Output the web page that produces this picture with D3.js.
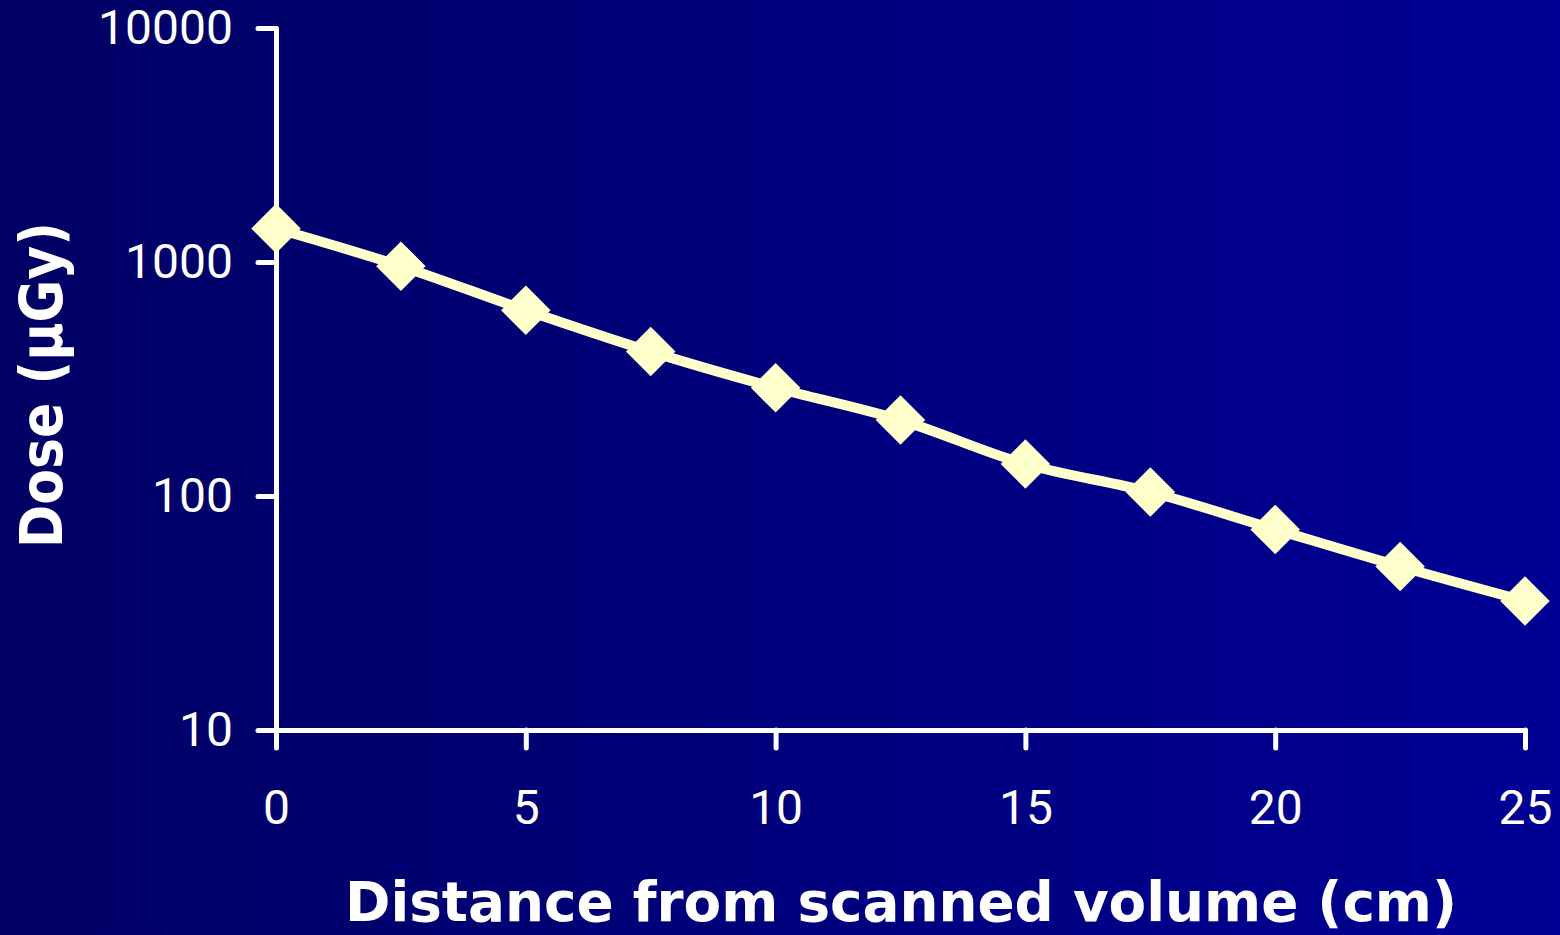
<!DOCTYPE html>
<html>
<head>
<meta charset="utf-8">
<script src="https://cdn.jsdelivr.net/npm/d3@7"></script>
<style>
  html, body { margin: 0; padding: 0; background: #000070; }
  svg { display: block; }
</style>
</head>
<body>
<div id="viz"></div>
<script>
// chart size
const width = 1560;
const height = 935;

// data
const distances = [0, 2.5, 5, 7.5, 10, 12.5, 15, 17.5, 20, 22.5, 25];
const doses = [1390, 960, 622, 414, 290, 211, 137, 104, 72, 50, 35.6];
const yTicks = [10, 100, 1000, 10000];
const xTicks = [0, 5, 10, 15, 20, 25];
const xTitle = "Distance from scanned volume (cm)";
const yTitle = "Dose (µGy)";

const svg = d3.select("#viz").append("svg")
    .attr("width", width)
    .attr("height", height);

// background gradient, dark navy to brighter blue
const grad = svg.append("defs").append("linearGradient")
    .attr("id", "bg")
    .attr("x1", "0%").attr("x2", "100%")
    .attr("y1", "0%").attr("y2", "0%");
grad.append("stop").attr("offset", "0%").attr("stop-color", "#000064");
grad.append("stop").attr("offset", "100%").attr("stop-color", "#000094");

svg.append("rect")
    .attr("width", width)
    .attr("height", height)
    .attr("fill", "url(#bg)");

const x = d3.scaleLinear().domain([0, 25]).range([276, 1525]);
const y = d3.scaleLog().domain([10, 10000]).range([730, 28]);

const tickFont = "Roboto, 'Open Sans', sans-serif";

// y axis
const yAxis = svg.append("g")
    .attr("transform", "translate(" + x(0) + ",0)")
    .call(d3.axisLeft(y)
        .tickValues(yTicks)
        .tickFormat(d3.format("d"))
        .tickSize(18)
        .tickSizeOuter(0)
        .tickPadding(25));

// x axis
const xAxis = svg.append("g")
    .attr("transform", "translate(0," + y(10) + ")")
    .call(d3.axisBottom(x)
        .tickValues(xTicks)
        .tickFormat(d3.format("d"))
        .tickSize(18)
        .tickSizeOuter(0)
        .tickPadding(42));

[yAxis, xAxis].forEach(ax => {
    ax.selectAll("path, line")
        .attr("stroke", "#ffffff")
        .attr("stroke-width", 5)
        .attr("stroke-linecap", "round");
    ax.selectAll("text")
        .attr("fill", "#ffffff")
        .style("font-family", tickFont)
        .style("font-size", "48px");
});

// series
const points = distances.map((d, i) => ({ x: d, y: doses[i] }));

svg.append("path")
    .datum(points)
    .attr("fill", "none")
    .attr("stroke", "#ffffcc")
    .attr("stroke-width", 10)
    .attr("stroke-linejoin", "round")
    .attr("d", d3.line()
        .x(d => x(d.x))
        .y(d => y(d.y))
        .curve(d3.curveMonotoneX));

svg.append("g")
    .selectAll("path")
    .data(points)
    .join("path")
    .attr("transform", d => "translate(" + x(d.x) + "," + y(d.y) + ") rotate(45)")
    .attr("d", d3.symbol().type(d3.symbolSquare).size(35 * 35))
    .attr("fill", "#ffffcc");

// axis titles
svg.append("text")
    .attr("x", 901)
    .attr("y", 921)
    .attr("text-anchor", "middle")
    .attr("textLength", 1112)
    .attr("lengthAdjust", "spacingAndGlyphs")
    .style("font-family", "'DejaVu Sans', Verdana, sans-serif")
    .style("font-weight", "bold")
    .style("font-size", "56px")
    .attr("fill", "#ffffff")
    .text(xTitle);

svg.append("text")
    .attr("transform", "translate(62,385) rotate(-90)")
    .attr("text-anchor", "middle")
    .attr("textLength", 326)
    .attr("lengthAdjust", "spacingAndGlyphs")
    .style("font-family", "'DejaVu Sans', Verdana, sans-serif")
    .style("font-weight", "bold")
    .style("font-size", "58px")
    .attr("fill", "#ffffff")
    .text(yTitle);
</script>
</body>
</html>
